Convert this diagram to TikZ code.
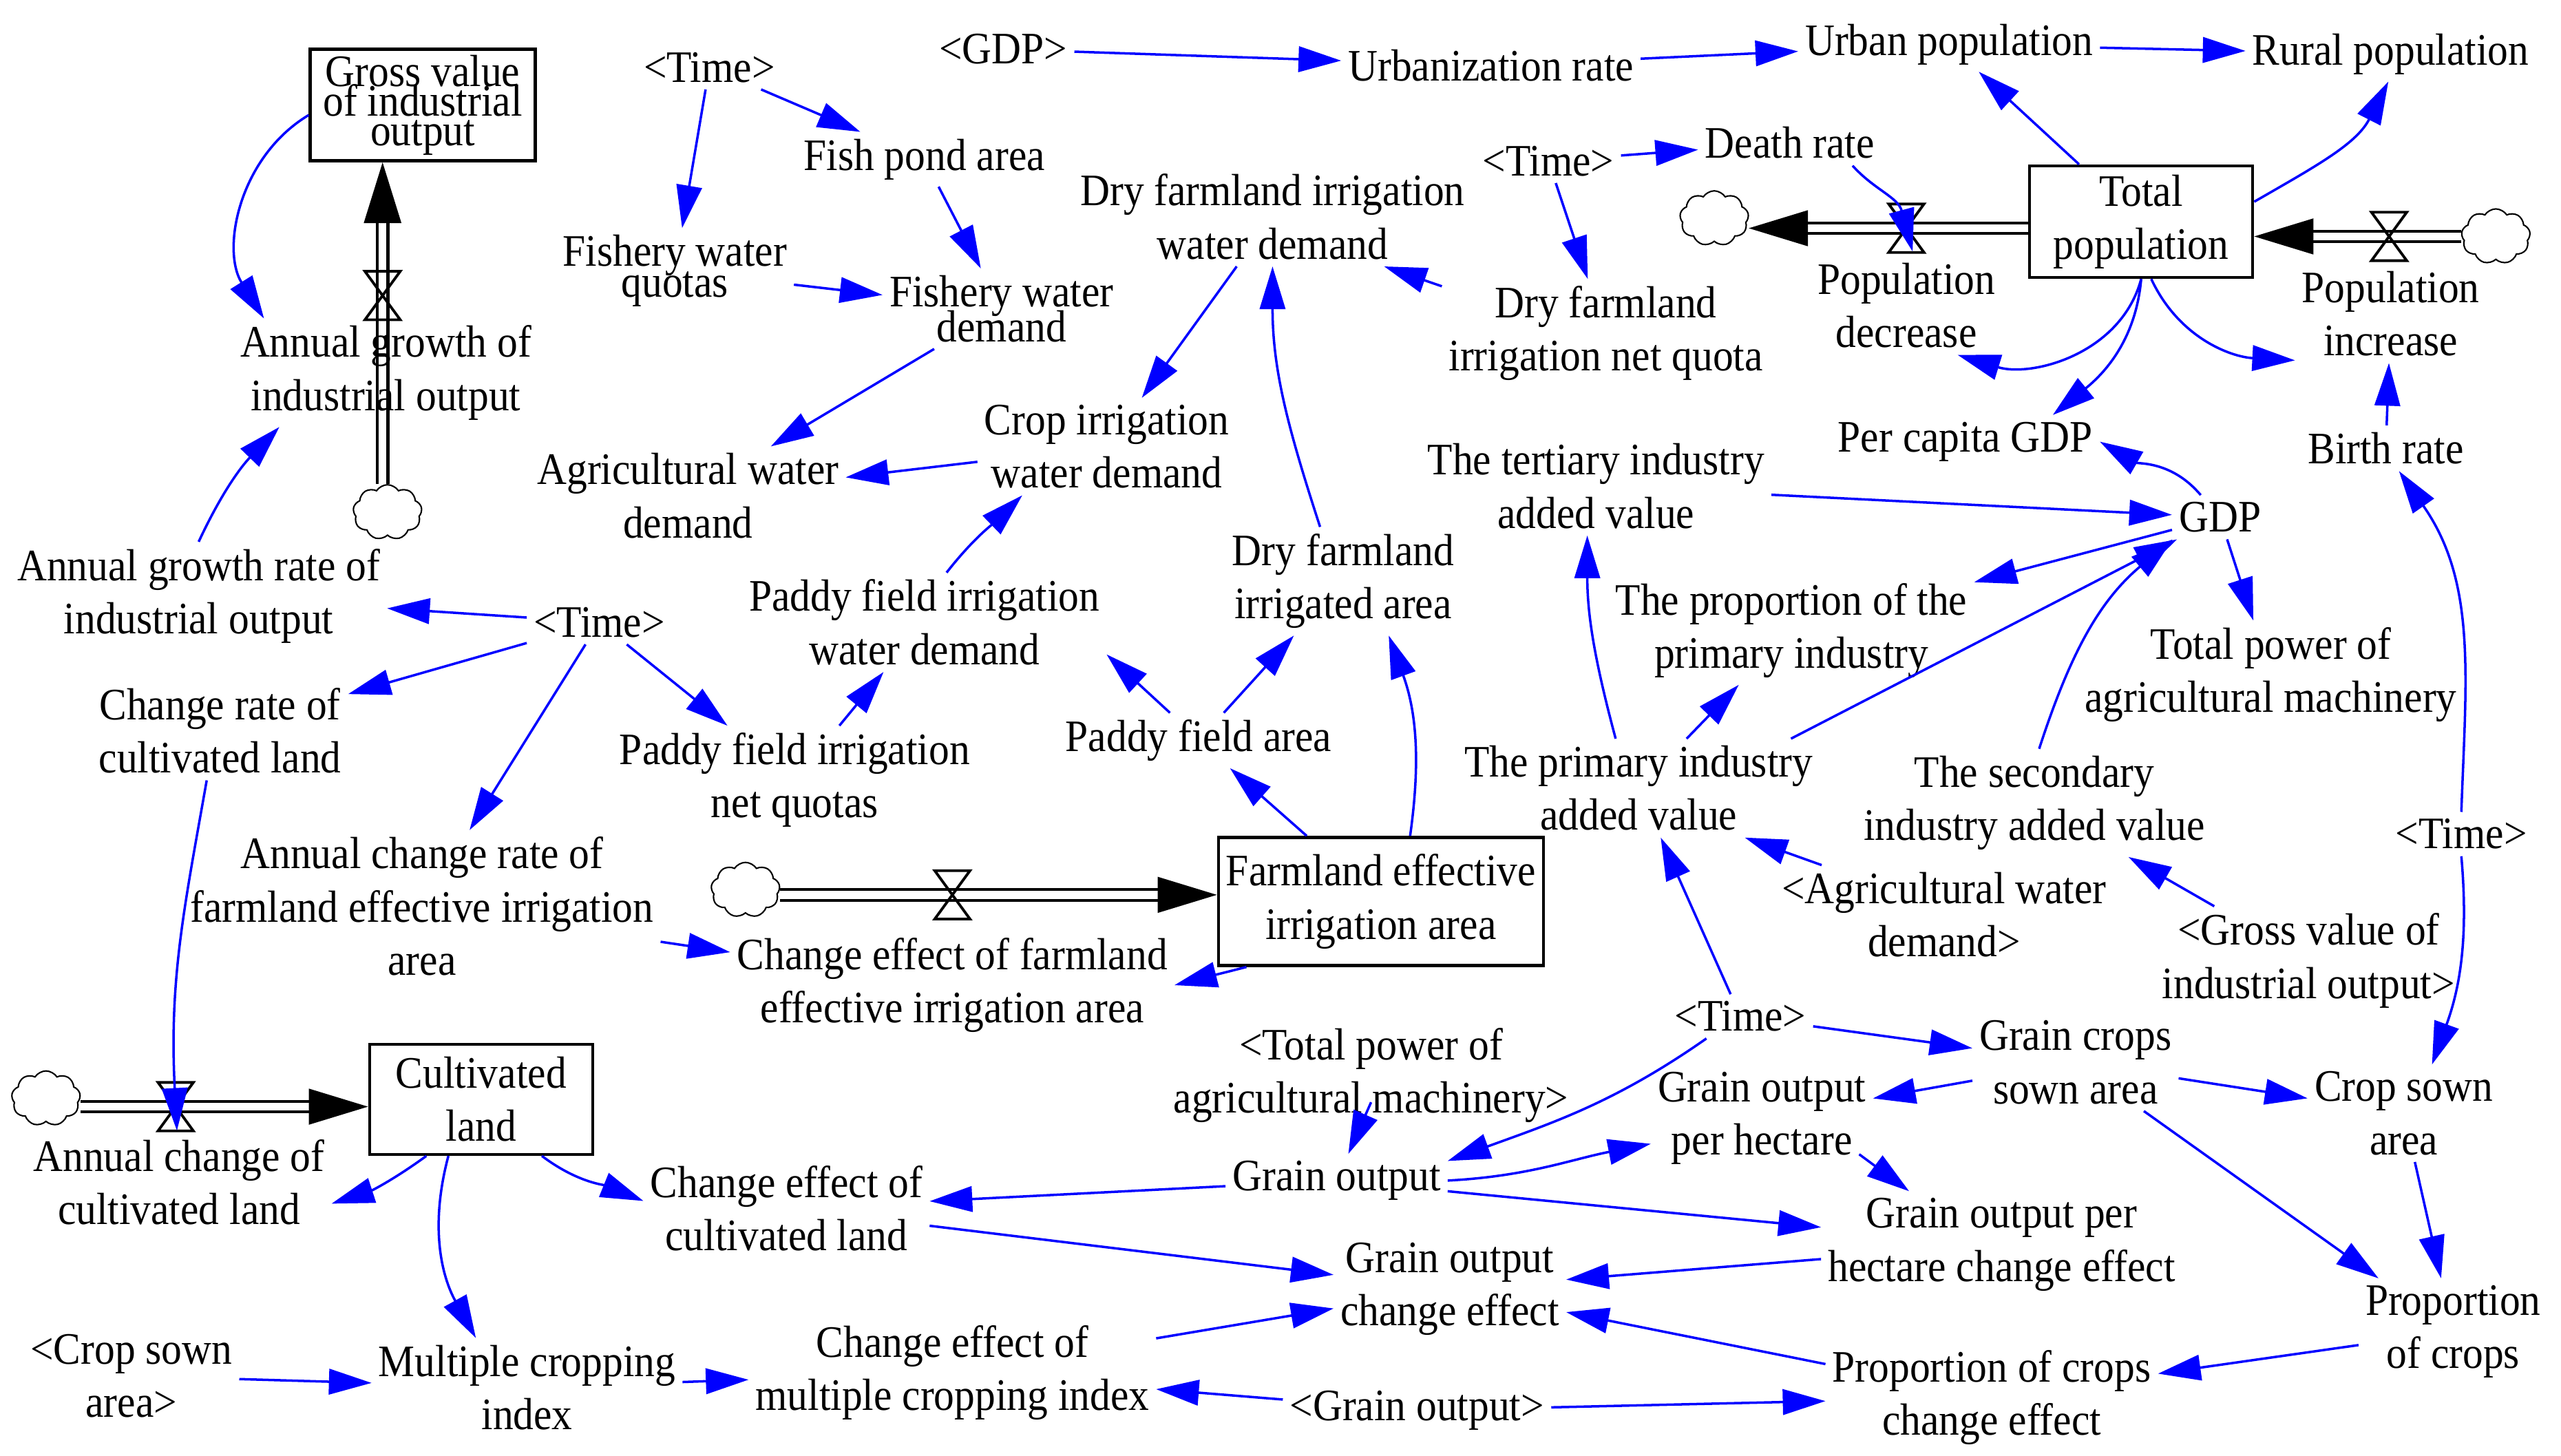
\documentclass[tikz,border=0pt]{standalone}
\usepackage{fontspec}
\setmainfont{Liberation Serif}[FakeStretch=0.91]
\usetikzlibrary{arrows.meta,shapes.symbols}

\newcommand{\vfont}{\fontsize{18.6}{22}\selectfont}
\newcommand{\tightfont}[1]{\fontsize{18.6}{#1}\selectfont\lineskiplimit=-50pt\lineskip=0pt}

\tikzset{
  var/.style={inner sep=2.7pt, align=center, font=\vfont},
  tvar/.style={var, font=\tightfont{14.4pt}},
  lvl/.style={draw, line width=1.3pt, align=center, inner sep=0pt, font=\vfont},
  conn/.style={blue, line width=1pt, -{Triangle[length=0.62cm,width=0.37cm]}},
  pipe/.style={draw=black, double=white, line width=1.2pt, double distance=3.2pt, shorten >=0.86cm},
  src/.style={cloud, cloud puffs=9, cloud puff arc=115, aspect=1.25, draw, line width=0.6pt,
    inner sep=0pt, minimum width=1.0cm, minimum height=0.8cm},
  pics/valve/.style={code={\draw[line width=1.1pt] (-10.75,-14.75) -- (10.75,-14.75) -- (-10.75,14.75) -- (10.75,14.75) -- cycle;}}
}

\begin{document}
\begin{tikzpicture}[x=0.02385cm, y=-0.02385cm]
\useasboundingbox (0,0) rectangle (1559.7,886.4);

\node[lvl, font=\tightfont{12.3pt}, minimum width=3.27cm, minimum height=1.62cm] (gvio) at (257.5,64) {Gross value\\of industrial\\output};
\node[lvl, minimum width=3.24cm, minimum height=1.62cm] (totpop) at (1304,135) {Total\\population};
\node[lvl, minimum width=4.72cm, minimum height=1.86cm] (farmland) at (841,549) {Farmland effective\\irrigation area};
\node[lvl, minimum width=3.24cm, minimum height=1.60cm] (cultland) at (293,669.5) {Cultivated\\land};

\coordinate (vind) at (233,180);
\coordinate (vdec) at (1161,139);
\coordinate (vinc) at (1455,144);
\coordinate (vfarm) at (580,545);
\coordinate (vcult) at (107,674);
\node[src] (cind) at (236,312) {};
\node[src] (cdec) at (1044,133) {};
\node[src] (cinc) at (1520,144) {};
\node[src] (cfarm) at (454,542) {};
\node[src] (ccult) at (28,669) {};

\draw[pipe] (cind.north -| vind) -- (gvio.south -| vind);
\fill (gvio.south -| vind) -- ++(-11.5,37) -- ++(23,0) -- cycle;
\draw[pipe] (totpop.west |- vdec) -- (cdec.east |- vdec);
\fill (cdec.east |- vdec) -- ++(36,-11) -- ++(0,22) -- cycle;
\draw[pipe] (cinc.west |- vinc) -- (totpop.east |- vinc);
\fill (totpop.east |- vinc) -- ++(36,-11) -- ++(0,22) -- cycle;
\draw[pipe] (cfarm.east |- vfarm) -- (farmland.west |- vfarm);
\fill (farmland.west |- vfarm) -- ++(-36,-11) -- ++(0,22) -- cycle;
\draw[pipe] (ccult.east |- vcult) -- (cultland.west |- vcult);
\fill (cultland.west |- vcult) -- ++(-36,-11) -- ++(0,22) -- cycle;
\pic at (vind) {valve};
\pic at (vdec) {valve};
\pic at (vinc) {valve};
\pic at (vfarm) {valve};
\pic at (vcult) {valve};

\node[var] (time1) at (432,41) {<Time>};
\node[var] (fishpond) at (563,97) {Fish pond area};
\node[tvar, font=\tightfont{12.8pt}] (fishquota) at (411,165) {Fishery water\\quotas};
\node[tvar] (fishdemand) at (610,188) {Fishery water\\demand};
\node[var] (agrwater) at (419,302) {Agricultural water\\demand};
\node[var] (dryirrdem) at (775,132) {Dry farmland irrigation\\water demand};
\node[var] (cropirr) at (674,272) {Crop irrigation\\water demand};
\node[var] (drynetq) at (978,203) {Dry farmland\\irrigation net quota};
\node[var] (time2) at (943,98) {<Time>};
\node[var] (deathrate) at (1090,87) {Death rate};
\node[var] (gdpsh) at (611,30) {<GDP>};
\node[var] (urbrate) at (908,40) {Urbanization rate};
\node[var] (urbpop) at (1187,27) {Urban population};
\node[var] (rurpop) at (1456,33) {Rural population};
\node[var] (percapita) at (1197,269) {Per capita GDP};
\node[var] (gdp) at (1352,315) {GDP};
\node[var] (birthrate) at (1453,273) {Birth rate};
\node[var] (popdec) at (1161,186) {Population\\decrease};
\node[var] (popinc) at (1456,191) {Population\\increase};
\node[var] (totpower) at (1383,411) {Total power of\\agricultural machinery};
\node[var] (tertiary) at (972,296) {The tertiary industry\\added value};
\node[var] (propprim) at (1091,384) {The proportion of the\\primary industry};
\node[var] (primary) at (998,480) {The primary industry\\added value};
\node[var] (secondary) at (1239,489) {The secondary\\industry added value};
\node[var] (agrwsh) at (1184,557) {<Agricultural water\\demand>};
\node[var] (gviosh) at (1406,585) {<Gross value of\\industrial output>};
\node[var] (time4) at (1499,508) {<Time>};
\node[var] (annualgrowth) at (235,227) {Annual growth of\\industrial output};
\node[var] (growthrate) at (121,363) {Annual growth rate of\\industrial output};
\node[var] (time3) at (365,379) {<Time>};
\node[var] (changerate) at (134,445) {Change rate of\\cultivated land};
\node[var] (paddyquota) at (484,475) {Paddy field irrigation\\net quotas};
\node[var] (paddydemand) at (563,379) {Paddy field irrigation\\water demand};
\node[var] (paddyarea) at (730,451) {Paddy field area};
\node[var] (dryarea) at (818,354) {Dry farmland\\irrigated area};
\node[var] (irrchangerate) at (257,552) {Annual change rate of\\farmland effective irrigation\\area};
\node[var] (irrchange) at (580,600) {Change effect of farmland\\effective irrigation area};
\node[var] (time5) at (1060,619) {<Time>};
\node[var] (grainsown) at (1264,647) {Grain crops\\sown area};
\node[var] (cropsown) at (1464,678) {Crop sown\\area};
\node[var] (powersh) at (835,655) {<Total power of\\agricultural machinery>};
\node[var] (grainha) at (1073,681) {Grain output\\per hectare};
\node[var] (grainout) at (814,719) {Grain output};
\node[var] (cultchange) at (479,736) {Change effect of\\cultivated land};
\node[var] (grainhaeff) at (1219,758) {Grain output per\\hectare change effect};
\node[var] (graineff) at (883,785) {Grain output\\change effect};
\node[var] (cropprop) at (1494,811) {Proportion\\of crops};
\node[var] (croppropeff) at (1213,851) {Proportion of crops\\change effect};
\node[var] (cropsownsh) at (80,838) {<Crop sown\\area>};
\node[var] (multiple) at (321,845) {Multiple cropping\\index};
\node[var] (multeff) at (580,836) {Change effect of\\multiple cropping index};
\node[var] (grainoutsh) at (863,859) {<Grain output>};
\node[var] (cultannual) at (109,720) {Annual change of\\cultivated land};

\draw[conn] (time1) -- (fishpond);
\draw[conn] (time1) -- (fishquota);
\draw[conn] (fishquota) -- (fishdemand);
\draw[conn] (fishpond) -- (fishdemand);
\draw[conn] (fishdemand) -- (agrwater);
\draw[conn] (cropirr) -- (agrwater);
\draw[conn] (dryirrdem) -- (cropirr);
\draw[conn] (drynetq.164) -- (dryirrdem.-24);
\draw[conn] (time2) -- (drynetq);
\draw[conn] (time2) -- (deathrate);
\draw[conn] (gdpsh) -- (urbrate);
\draw[conn] (urbrate) -- (urbpop);
\draw[conn] (urbpop) -- (rurpop);
\draw[conn] (totpop) -- (urbpop);
\draw[conn] (totpop.10) to[out=30,in=243] (rurpop.265);
\draw[conn, shorten >=-0.35cm] (deathrate.-20) to[out=-48,in=105] (vdec);
\draw[conn] (totpop.south) to[out=-105,in=-17] (popdec.-44);
\draw[conn] (totpop.south) to[out=-95,in=39] (percapita.17);
\draw[conn] (totpop.-80) to[out=-65,in=177] (popinc.206);
\draw[conn] (birthrate) -- (popinc);
\draw[conn] (time4.north) to[out=88,in=-55] (birthrate.-60);
\draw[conn] (time4.south) to[out=-85,in=70] (cropsown.60);
\draw[conn] (gdp.131) to[out=130,in=-30] (percapita.east);
\draw[conn] (tertiary) -- (gdp);
\draw[conn] (gdp) -- (propprim);
\draw[conn] (gdp) -- (totpower);
\draw[conn] (primary.18) -- (gdp);
\draw[conn] (secondary.85) to[out=72,in=220] (gdp.205);
\draw[conn] (primary.115) to[out=105,in=-90] (tertiary.-100);
\draw[conn] (primary) -- (propprim);
\draw[conn] (agrwsh.158) -- (primary.-25);
\draw[conn] (gviosh) -- (secondary);
\draw[conn] (time5) -- (primary);
\draw[conn] (time5) -- (grainsown);
\draw[conn] (grainsown) -- (grainha);
\draw[conn] (grainsown) -- (cropsown);
\draw[conn] (grainsown) -- (cropprop);
\draw[conn] (cropsown) -- (cropprop);
\draw[conn] (cropprop) -- (croppropeff);
\draw[conn] (time5.213) to[out=-145,in=20] (grainout.10);
\draw[conn] ([yshift=0.4cm]powersh.south) -- (grainout);
\draw[conn] (grainout.east) to[out=3,in=191] (grainha.193);
\draw[conn] ([xshift=-0.2cm,yshift=0.25cm]grainha.south east) -- (grainhaeff.150);
\draw[conn] (grainout) -- (grainhaeff);
\draw[conn] (grainhaeff) -- (graineff);
\draw[conn] (grainout) -- (cultchange);
\draw[conn] (cultchange) -- (graineff);
\draw[conn] (multeff) -- (graineff);
\draw[conn] (croppropeff) -- (graineff);
\draw[conn] (grainoutsh) -- (multeff);
\draw[conn] (grainoutsh) -- (croppropeff);
\draw[conn] (multiple) -- (multeff);
\draw[conn] (cropsownsh) -- (multiple);
\draw[conn] (cultland.240) to[out=-105,in=119] (multiple.136);
\draw[conn] (cultland.226) to[out=216,in=18] (cultannual.-8);
\draw[conn] (cultland.-43) to[out=-37,in=158] (cultchange.177);
\draw[conn, shorten >=-0.35cm] (changerate.-105) to[out=-100,in=93] (vcult);
\draw[conn] (time3) -- (growthrate);
\draw[conn] (time3) -- (changerate);
\draw[conn] (time3) -- (irrchangerate);
\draw[conn] (time3) -- (paddyquota);
\draw[conn] (paddyquota) -- (paddydemand);
\draw[conn] (paddydemand.66) to[out=52,in=224] (cropirr.210);
\draw[conn] (irrchangerate) -- (irrchange);
\draw[conn] (farmland.206) -- (irrchange.east);
\draw[conn] (farmland) -- (paddyarea);
\draw[conn] (paddyarea.136) -- (paddydemand.-10);
\draw[conn] (paddyarea) -- (dryarea);
\draw[conn] (farmland.66) to[out=82,in=-70] (dryarea.-50);
\draw[conn] (dryarea.113) to[out=108,in=-90] (dryirrdem.south);
\draw[conn] (gvio.185) to[out=211,in=122] (annualgrowth.156);
\draw[conn] (growthrate.north) to[out=65,in=226] (annualgrowth.207);
\end{tikzpicture}
\end{document}
